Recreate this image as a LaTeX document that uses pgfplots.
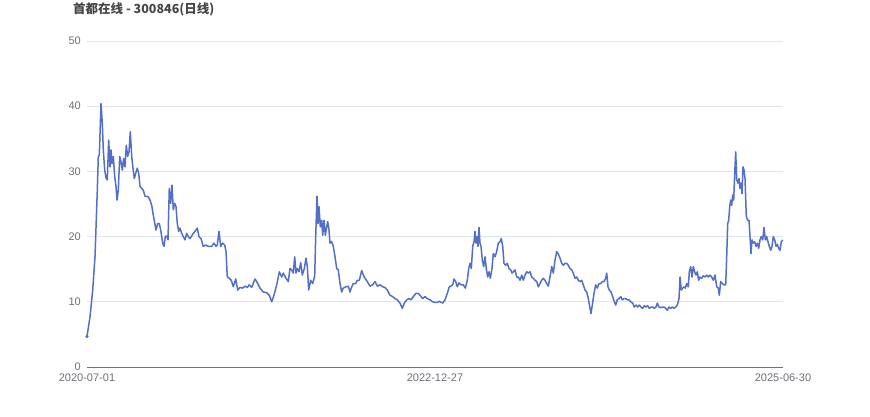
\documentclass[border=0pt]{standalone}
\usepackage{pgfplots}
\pgfplotsset{compat=1.18}
\usepackage{fontspec}
\setmainfont{Liberation Sans}
\newfontfamily\cjk{Noto Sans CJK SC}
\definecolor{linec}{RGB}{84,112,198}
\definecolor{axc}{RGB}{110,112,121}
\definecolor{gridc}{RGB}{224,230,241}
\definecolor{titc}{RGB}{70,70,70}
\begin{document}
\begin{tikzpicture}[x=1pt,y=1pt]
\path[use as bounding box] (0,0) rectangle (870,417);
\node[anchor=west,inner sep=0pt,text=titc] at (73,408) {\cjk\bfseries\fontsize{12.5}{14}\selectfont 首都在线 - 300846(日线)};
\begin{axis}[
  at={(87pt,50pt)}, anchor=south west,
  scale only axis, width=696pt, height=326pt,
  xmin=87, xmax=783, ymin=0, ymax=50,
  ytick={0,10,20,30,40,50},
  xtick={87,435,783},
  xticklabels={2020-07-01,2022-12-27,2025-06-30},
  axis y line*=left,
  axis x line*=bottom,
  y axis line style={draw=none},
  x axis line style={draw=axc, line width=0.8pt, -},
  ymajorgrids, grid style={draw=gridc, line width=0.8pt},
  major tick length=0pt,
  tick style={draw=none},
  clip=false,
  /pgf/number format/assume math mode=true,
  ticklabel style={font=\fontsize{11}{13}\selectfont, text=axc, inner sep=0pt},
  yticklabel style={anchor=east, xshift=-6pt},
  xticklabel style={anchor=north, yshift=-7pt},
]
\addplot[draw=linec, line width=1.5pt, line join=round, mark=none] coordinates {
(87,4.7)(90,7.7)(92.7,11.8)(95,16.9)(97.3,27.1)(98.3,32.3)(99.3,32.5)(101,40.4)(102.3,37.4)(103.3,33.3)(104.7,30.2)(106,29.0)(107.3,28.7)(108.7,34.8)(110,30.7)(111,33.3)(112,31.2)(113.3,32.3)(114.7,29.2)(116,27.7)(117,25.6)(118.3,27.1)(119.7,32.3)(121,31.5)(122.3,30.2)(123.7,32.0)(125,30.7)(126.3,34.0)(127.7,32.3)(129,33.0)(130.3,36.1)(131.7,32.3)(133,30.5)(134.3,28.9)(135.7,29.7)(137.3,30.5)(138.7,29.7)(140,27.7)(143.3,27.1)(145,26.2)(148.3,26.1)(150,25.6)(151.7,24.8)(153.3,23.3)(156,21.0)(157.7,22.0)(159.3,22.0)(160.7,21.0)(162.7,19.0)(164,18.5)(165.3,20.0)(166.7,20.1)(168,19.5)(169.3,27.4)(170.7,25.1)(172,27.9)(173.3,24.1)(174.7,25.1)(176,24.6)(177.3,22.0)(178.7,20.8)(180,21.3)(181.7,20.5)(183.3,20.0)(185,19.5)(186.7,20.5)(188.3,20.0)(190,19.7)
(193.3,20.5)(196,21.0)(197.3,21.3)(199,20.0)(201,19.7)(203.3,18.5)(206,18.7)(208.3,18.5)(211.7,18.5)(214,19.0)(216,18.5)(217.3,18.7)(219,20.8)(220.7,18.5)(222.7,19.0)(224.7,18.7)(226,17.7)(227.3,13.8)(229.3,13.6)(231.3,13.3)(233.3,12.3)(235.7,13.5)(237.7,11.8)(240,12.2)(242.7,12.1)(245,12.4)(247.3,12.2)(249.3,12.6)(251.7,12.2)(255,13.5)(256.7,13.1)(260,12.1)(263.3,11.5)(266.7,11.4)(269.3,11.0)(271.7,10.0)(274,11.0)(276.7,12.6)(279.3,14.6)(281.7,13.8)(283.3,14.4)(286,13.6)(288.3,13.1)(290,15.1)(291.7,14.9)(293.3,14.4)(294.7,16.9)(296,14.4)(297.3,15.1)(299,14.6)(300.7,16.0)(302.3,14.1)(304.3,15.1)(306,16.7)(307.3,15.4)(308.7,11.8)(310.7,13.3)(312.7,12.8)(314.7,14.0)(315.7,20.0)(317,26.2)(318,22.0)(319,24.6)(320.3,21.5)(321.7,22.5)(322.7,20.2)(324,22.5)(325.3,20.2)(326.7,21.5)(327.7,22.3)(329,21.0)(330,19.0)(331.7,19.2)(333.3,18.5)(335,16.9)(336.7,15.1)(338.3,14.9)(340,12.8)(341.7,11.5)(343.3,12.1)(346,12.3)(348.3,12.4)(350,11.5)(351.7,12.3)(353.3,12.8)(355.7,12.8)(357.3,13.3)(359.3,13.3)(361.7,14.8)(363.3,14.1)(365,13.6)(367.3,13.1)(370,12.4)(372.7,12.6)(375,13.1)(377.3,12.4)(380,12.6)(382.7,12.3)(385,12.2)(387.3,11.8)(390,11.0)(392.7,10.8)(395,10.5)(397.3,10.3)(400,9.8)(402.3,9.0)(404.3,9.8)(406.7,10.3)(409,10.5)(411,10.3)(413.3,10.8)(416,11.3)(418.3,11.3)(420,11.0)(422.7,10.5)(425,10.8)(427.3,10.5)(430,10.3)(432.7,10.0)(435,9.9)(437.3,9.9)(439.3,10.1)(440,10.0)(442.7,9.8)(445,10.3)(447.3,11.3)(449.3,12.3)(451,12.4)(452.7,12.6)(454,13.5)(455.7,13.1)(457.3,12.3)(459,12.9)(461,12.6)(463.3,12.6)(465.3,12.1)(467.3,13.3)(468.7,15.1)(470,15.9)(471.3,15.1)(472.7,18.5)(474,19.2)(475,20.8)(476,19.0)(477,20.0)(478,18.5)(479,21.4)(480,19.0)(481,18.5)(482.3,16.4)(483.7,15.4)(485,16.9)(486.3,15.1)(487.7,13.8)(489,14.6)(490.3,13.6)(492,15.1)(493.3,17.4)(495,16.9)(496.7,17.7)(498.3,19.0)(500,19.2)(501.3,19.7)(502.7,18.5)(504,15.9)(505.7,15.6)(507.3,15.9)(509,15.1)(510.7,14.9)(512,14.4)(513.3,14.6)(515,14.9)(516.7,13.8)(518.3,13.8)(520,13.3)(521.7,14.1)(523.3,13.3)(525,14.1)(526.7,14.6)(528.3,14.4)(530,14.6)(531.7,13.8)(533.3,13.6)(535,13.3)(536.7,13.1)(538.3,12.3)(540,12.8)(541.7,13.3)(543.3,13.6)(545,13.3)(546.7,12.8)(548.3,12.4)(550,13.8)(551.7,15.4)(553.3,14.4)(555,16.4)(556.7,17.7)(558.3,17.3)(560,16.7)(561.7,15.9)(563.3,15.6)(565,15.9)(566.7,15.9)(568.3,15.6)(570,15.1)(571.7,14.9)(573.3,14.4)(575,13.6)(576.7,13.8)(578.3,13.3)(580,13.1)(581.7,13.3)(583.3,12.6)(585,11.8)(586.7,11.5)(588.3,10.5)(590,9.0)(591,8.2)(592.3,9.5)(594,11.3)(595.7,12.6)(597.3,12.1)(599,12.8)(600.7,12.8)(602.3,13.1)(604,13.1)(605.7,13.6)(606.7,14.4)(608,12.3)(609.3,11.8)(611,11.5)(612.7,10.8)(614.3,10.0)(615.7,9.5)(617.3,10.3)(619,10.5)(620.7,10.8)(622.3,10.3)(624,10.5)(625.7,10.5)(627.3,10.3)(629,10.3)(630.7,10.0)(632.7,9.8)(634.3,9.2)(636,9.5)(637.7,9.2)(639.3,9.5)(641,9.2)(642.7,9.0)(644.3,9.4)(646,9.2)(647.7,9.4)(649.3,9.0)(651,9.2)(652.7,9.2)(654.3,9.0)(656,9.2)(657.3,9.8)(659,9.2)(660.7,9.1)(662.3,9.2)(664,9.2)(665.7,9.0)(667.3,8.7)(669,9.2)(670.7,9.0)(672.3,9.2)(674,9.0)(675.7,9.2)(677.3,9.5)(679,10.5)(680,13.8)(681.3,11.8)(682.7,12.1)(684,12.3)(685.3,12.1)(686.7,12.8)(688.3,12.3)(689.3,14.6)(690.7,15.4)(692,13.8)(693.3,15.4)(694.7,14.6)(696,14.1)(697.3,14.6)(698.7,13.3)(700,13.8)(701.7,13.6)(703.3,14.0)(705,13.8)(706.7,14.1)(708.3,13.8)(710,14.1)(711.7,13.8)(713.3,13.3)(715,14.1)(716.7,12.3)(718.3,12.1)(719.3,11.0)(720.7,13.1)(722.3,12.8)(724,12.6)(725.7,12.6)(726.7,16.9)(727.7,22.0)(728.7,22.5)(729.7,24.6)(730.7,25.6)(731.7,24.8)(732.7,26.4)(733.7,25.6)(734.7,29.7)(735.7,33.0)(736.7,28.7)(738,28.2)(739,28.9)(740,27.4)(741,28.2)(742,26.6)(743,30.7)(744,30.2)(745,28.9)(746.3,23.1)(747.7,22.5)(749,22.5)(750,20.0)(751,17.4)(752,19.5)(753.3,19.0)(754.7,19.2)(756,18.5)(757.3,19.0)(758.7,18.2)(760,19.5)(761.3,20.0)(762.7,19.5)(764,21.4)(765.3,19.5)(766.7,20.0)(768,19.2)(769.3,18.5)(770.7,17.9)(772,18.5)(773.3,20.0)(774.7,19.5)(776,18.5)(777.3,18.8)(778.7,18.2)(780,17.9)(781.3,19.2)(782.7,19.5)
};
\addplot[only marks, mark=*, mark size=1.4pt, color=linec] coordinates {(87,4.7)};
\end{axis}
\end{tikzpicture}
\end{document}
